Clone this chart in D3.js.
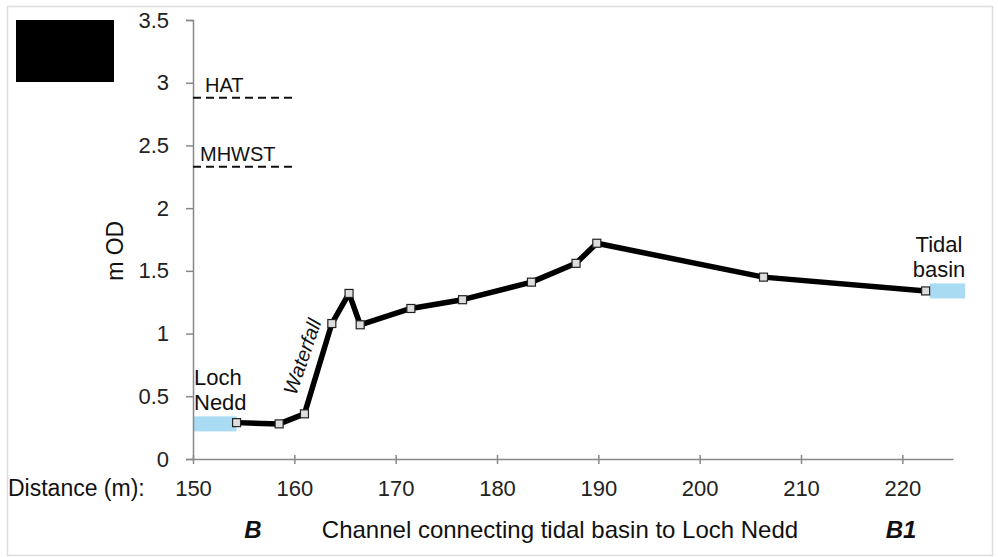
<!DOCTYPE html>
<html><head><meta charset="utf-8">
<script src="https://cdn.jsdelivr.net/npm/d3@7"></script>
<style>body{margin:0;background:#fff}svg{display:block}text{font-family:Arial,"Liberation Sans",sans-serif}</style>
</head><body><div id="chart"></div>
<script>
const distance = [154.3, 158.5, 161.0, 163.7, 165.4, 166.5, 171.5, 176.6, 183.4, 187.8, 189.85, 206.3, 222.3];
const elevation = [0.29, 0.28, 0.36, 1.08, 1.32, 1.07, 1.20, 1.27, 1.41, 1.56, 1.72, 1.45, 1.34];
const xTicks = [150, 160, 170, 180, 190, 200, 210, 220];
const yTicks = [0, 0.5, 1, 1.5, 2, 2.5, 3, 3.5];
const tideNames = ["HAT", "MHWST"];
const tideLevels = [2.88, 2.33];
const tideExtent = [150, 160];
const waterNames = ["Loch Nedd", "Tidal basin"];
const waterX = [[150, 154.3], [222.7, 226.2]];
const waterY = [[0.22, 0.34], [1.28, 1.40]];

const W = 998, H = 557;
const FONT = "Arial, Liberation Sans, sans-serif";
const svg = d3.select("#chart").append("svg").attr("width", W).attr("height", H);
svg.append("rect").attr("x", 7.5).attr("y", 6.5).attr("width", 985).attr("height", 549)
  .attr("fill", "#fff").attr("stroke", "#ddd").attr("stroke-width", 1.5);
svg.append("rect").attr("x", 16).attr("y", 20).attr("width", 98).attr("height", 62).attr("fill", "#000");

const x = d3.scaleLinear().domain([150, 225]).range([193, 953]);
const y = d3.scaleLinear().domain([0, 3.5]).range([459, 20]);

// water patches
waterX.forEach((wx, i) => {
  svg.append("rect").attr("x", x(wx[0])).attr("width", x(wx[1]) - x(wx[0]))
    .attr("y", y(waterY[i][1])).attr("height", y(waterY[i][0]) - y(waterY[i][1]))
    .attr("fill", "#a9dcf3");
});

// axes
const yAxis = d3.axisLeft(y).tickValues(yTicks).tickSize(7).tickPadding(17).tickFormat(d3.format("~g"));
const gy = svg.append("g").attr("transform", `translate(${x(150)},0)`).call(yAxis);
gy.select(".domain").attr("stroke", "#888").attr("stroke-width", 1.5);
gy.selectAll(".tick line").attr("stroke", "#888").attr("stroke-width", 1.5);
gy.selectAll(".tick text").attr("font-size", 22).attr("fill", "#222").attr("font-family", FONT);

const xAxis = d3.axisBottom(x).tickValues(xTicks).tickSize(5).tickPadding(16).tickSizeOuter(0);
const gx = svg.append("g").attr("transform", `translate(0,${y(0)})`).call(xAxis);
gx.select(".domain").attr("stroke", "#888").attr("stroke-width", 1.5);
gx.selectAll(".tick line").attr("stroke", "#888").attr("stroke-width", 1.5).attr("y1", -4);
gx.selectAll(".tick text").attr("font-size", 22).attr("fill", "#222").attr("font-family", FONT);

// tide lines
tideLevels.forEach((lv, i) => {
  svg.append("line").attr("x1", x(tideExtent[0])).attr("x2", x(tideExtent[1]))
    .attr("y1", y(lv)).attr("y2", y(lv)).attr("stroke", "#111").attr("stroke-width", 2.2)
    .attr("stroke-dasharray", "8,5");
  svg.append("text").attr("x", x(tideExtent[0]) + (i === 0 ? 12 : 7)).attr("y", y(lv) - 6)
    .attr("font-size", 20).attr("fill", "#111").text(tideNames[i]);
});

// profile
const pts = distance.map((d, i) => [d, elevation[i]]);
svg.append("path").datum(pts)
  .attr("d", d3.line().x(d => x(d[0])).y(d => y(d[1])))
  .attr("fill", "none").attr("stroke", "#000").attr("stroke-width", 5.5).attr("stroke-linejoin", "round");
svg.selectAll(".mk").data(pts).enter().append("rect")
  .attr("x", d => x(d[0]) - 4).attr("y", d => y(d[1]) - 4).attr("width", 8).attr("height", 8)
  .attr("fill", "#ddd").attr("stroke", "#222").attr("stroke-width", 1.2);

// labels
const lab1 = svg.append("text").attr("font-size", 22).attr("fill", "#111");
lab1.append("tspan").attr("x", 194).attr("y", 385).text(waterNames[0].split(" ")[0]);
lab1.append("tspan").attr("x", 194).attr("y", 410).text(waterNames[0].split(" ")[1]);
const lab2 = svg.append("text").attr("font-size", 22).attr("fill", "#111").attr("text-anchor", "middle");
lab2.append("tspan").attr("x", 939).attr("y", 252).text(waterNames[1].split(" ")[0]);
lab2.append("tspan").attr("x", 939).attr("y", 277).text(waterNames[1].split(" ")[1]);

svg.append("text").attr("transform", "translate(296,396) rotate(-71)")
  .attr("font-size", 20).attr("font-style", "italic").attr("fill", "#111").text("Waterfall");

svg.append("text").attr("transform", `translate(123,${y(1.66)}) rotate(-90)`)
  .attr("text-anchor", "middle").attr("font-size", 23).attr("fill", "#111").text("m OD");

svg.append("text").attr("x", 8).attr("y", 496).attr("font-size", 23).attr("fill", "#111").text("Distance (m):");
svg.append("text").attr("x", 253).attr("y", 538).attr("text-anchor", "middle").attr("font-size", 24)
  .attr("font-weight", "bold").attr("font-style", "italic").attr("fill", "#111").text("B");
svg.append("text").attr("x", 560).attr("y", 538).attr("text-anchor", "middle").attr("font-size", 24)
  .attr("fill", "#111").text("Channel connecting tidal basin to Loch Nedd");
svg.append("text").attr("x", 901).attr("y", 538).attr("text-anchor", "middle").attr("font-size", 24)
  .attr("font-weight", "bold").attr("font-style", "italic").attr("fill", "#111").text("B1");
</script></body></html>
